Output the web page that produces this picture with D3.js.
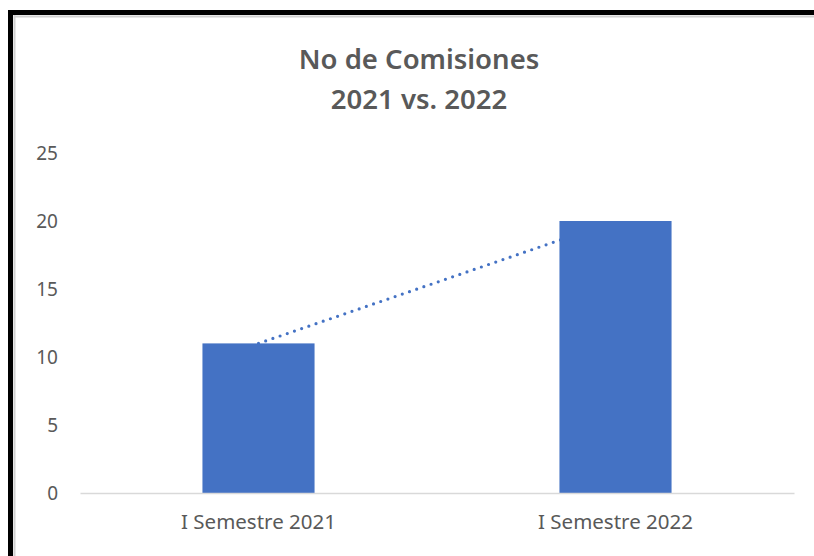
<!DOCTYPE html>
<html>
<head>
<meta charset="utf-8">
<script src="https://cdn.jsdelivr.net/npm/d3@7"></script>
<style>
  html, body { margin: 0; padding: 0; background: #fff; }
  svg { display: block; }
</style>
</head>
<body>
<div id="chart"></div>
<script>
const categories = ["I Semestre 2021", "I Semestre 2022"]
const comisiones = [11, 20]
const yTicks = [0, 5, 10, 15, 20, 25]
const titleLines = ["No de Comisiones", "2021 vs. 2022"]

const W = 814, H = 556
const plot = { left: 80, right: 794, top: 153, bottom: 493 }
const blue = "#4472C4", grey = "#595959"

const svg = d3.select("#chart").append("svg")
    .attr("width", W)
    .attr("height", H)

svg.append("rect").attr("width", W).attr("height", H).attr("fill", "#fff")

// frame (black border left + top, with a soft grey inner edge)
svg.append("line").attr("x1", 14.5).attr("x2", 14.5).attr("y1", 15).attr("y2", H)
    .attr("stroke", "#d0d0d0").attr("stroke-width", 2)
svg.append("line").attr("x1", 14).attr("x2", W).attr("y1", 16.5).attr("y2", 16.5)
    .attr("stroke", "#d0d0d0").attr("stroke-width", 2)
svg.append("line").attr("x1", 10.5).attr("x2", 10.5).attr("y1", 10).attr("y2", H)
    .attr("stroke", "#000").attr("stroke-width", 5)
svg.append("line").attr("x1", 8).attr("x2", W).attr("y1", 12.5).attr("y2", 12.5)
    .attr("stroke", "#000").attr("stroke-width", 5)

const x = d3.scaleBand()
    .domain(categories)
    .range([plot.left, plot.right])
    .paddingInner(0.686)
    .paddingOuter(0.343)

const y = d3.scaleLinear()
    .domain([0, 25])
    .range([plot.bottom, plot.top])

// title
svg.append("text")
    .attr("x", 419)
    .attr("text-anchor", "middle")
    .style("font-family", "'Noto Sans', sans-serif")
    .style("font-weight", 600)
    .style("font-size", "27.5px")
    .attr("fill", grey)
    .selectAll("tspan")
    .data(titleLines)
    .enter().append("tspan")
    .attr("x", 419)
    .attr("y", (d, i) => 69 + i * 40)
    .text(d => d)

// y axis labels
const yAxis = svg.append("g")
    .attr("transform", "translate(" + 58 + ",0)")
    .call(d3.axisLeft(y).tickValues(yTicks).tickSize(0).tickPadding(0))
yAxis.select(".domain").remove()
yAxis.selectAll("text")
    .attr("fill", grey)
    .style("font-family", "'Noto Sans', sans-serif")
    .style("font-size", "19px")

// trendline (linear, dotted) behind bars
const data = categories.map((c, i) => ({ cat: c, value: comisiones[i] }))
const trend = d3.line()
    .x(d => x(d.cat) + x.bandwidth() / 2)
    .y(d => y(d.value))
svg.append("path")
    .datum(data)
    .attr("d", trend)
    .attr("fill", "none")
    .attr("stroke", blue)
    .attr("stroke-width", 3.2)
    .attr("stroke-linecap", "round")
    .attr("stroke-dasharray", "0 7.6")

// bars
svg.selectAll("rect.bar")
    .data(data)
    .enter().append("rect")
    .attr("class", "bar")
    .attr("x", d => x(d.cat))
    .attr("y", d => y(d.value))
    .attr("width", x.bandwidth())
    .attr("height", d => y(0) - y(d.value))
    .attr("fill", blue)

// x axis
const xAxis = svg.append("g")
    .attr("transform", "translate(0," + plot.bottom + ")")
    .call(d3.axisBottom(x).tickSize(0).tickPadding(21))
xAxis.select(".domain").attr("stroke", "#d9d9d9").attr("stroke-width", 1.3)
xAxis.selectAll("text")
    .attr("fill", grey)
    .style("font-family", "'Noto Sans', sans-serif")
    .style("font-size", "20.5px")
</script>
</body>
</html>
